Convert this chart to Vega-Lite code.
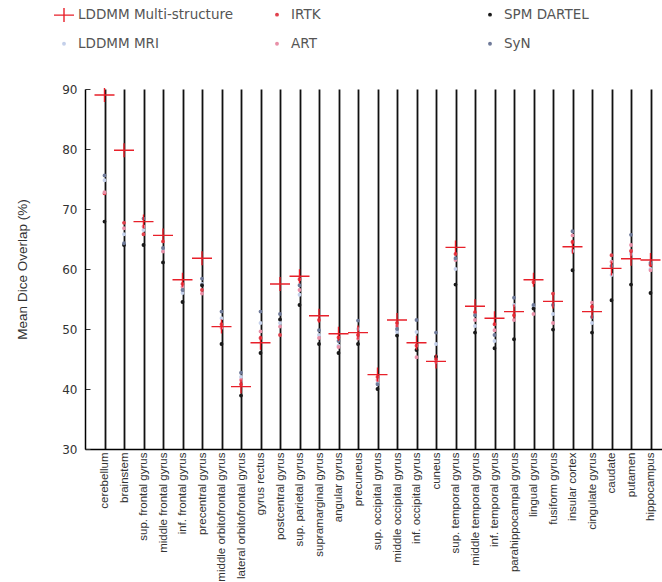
{
  "$schema": "https://vega.github.io/schema/vega-lite/v6.json",
  "width": 585,
  "height": 360,
  "autosize": {"type": "none"},
  "padding": {"left": 85, "top": 89, "right": -8, "bottom": 133},
  "background": "white",
  "config": {"view": {"stroke": null}},
  "data": {"values": [
    {"s":"cerebellum","m":"LDDMM MRI","v":74.8},{"s":"cerebellum","m":"IRTK","v":72.6},{"s":"cerebellum","m":"ART","v":72.8},{"s":"cerebellum","m":"SPM DARTEL","v":67.9},{"s":"cerebellum","m":"SyN","v":75.6},
    {"s":"brainstem","m":"LDDMM MRI","v":65.8},{"s":"brainstem","m":"IRTK","v":67.7},{"s":"brainstem","m":"ART","v":66.8},{"s":"brainstem","m":"SPM DARTEL","v":64.0},{"s":"brainstem","m":"SyN","v":64.3},
    {"s":"sup. frontal gyrus","m":"LDDMM MRI","v":66.5},{"s":"sup. frontal gyrus","m":"IRTK","v":65.8},{"s":"sup. frontal gyrus","m":"ART","v":67.1},{"s":"sup. frontal gyrus","m":"SPM DARTEL","v":64.0},{"s":"sup. frontal gyrus","m":"SyN","v":68.4},
    {"s":"middle frontal gyrus","m":"LDDMM MRI","v":63.0},{"s":"middle frontal gyrus","m":"IRTK","v":64.6},{"s":"middle frontal gyrus","m":"ART","v":62.9},{"s":"middle frontal gyrus","m":"SPM DARTEL","v":61.1},{"s":"middle frontal gyrus","m":"SyN","v":63.5},
    {"s":"inf. frontal gyrus","m":"LDDMM MRI","v":56.0},{"s":"inf. frontal gyrus","m":"IRTK","v":57.5},{"s":"inf. frontal gyrus","m":"ART","v":57.0},{"s":"inf. frontal gyrus","m":"SPM DARTEL","v":54.5},{"s":"inf. frontal gyrus","m":"SyN","v":56.5},
    {"s":"precentral gyrus","m":"LDDMM MRI","v":57.5},{"s":"precentral gyrus","m":"IRTK","v":56.5},{"s":"precentral gyrus","m":"ART","v":55.9},{"s":"precentral gyrus","m":"SPM DARTEL","v":57.3},{"s":"precentral gyrus","m":"SyN","v":58.4},
    {"s":"middle orbitofrontal gyrus","m":"LDDMM MRI","v":51.8},{"s":"middle orbitofrontal gyrus","m":"IRTK","v":50.8},{"s":"middle orbitofrontal gyrus","m":"ART","v":50.2},{"s":"middle orbitofrontal gyrus","m":"SPM DARTEL","v":47.5},{"s":"middle orbitofrontal gyrus","m":"SyN","v":52.9},
    {"s":"lateral orbitofrontal gyrus","m":"LDDMM MRI","v":42.0},{"s":"lateral orbitofrontal gyrus","m":"IRTK","v":40.8},{"s":"lateral orbitofrontal gyrus","m":"ART","v":41.5},{"s":"lateral orbitofrontal gyrus","m":"SPM DARTEL","v":38.9},{"s":"lateral orbitofrontal gyrus","m":"SyN","v":42.7},
    {"s":"gyrus rectus","m":"LDDMM MRI","v":51.0},{"s":"gyrus rectus","m":"IRTK","v":48.5},{"s":"gyrus rectus","m":"ART","v":49.6},{"s":"gyrus rectus","m":"SPM DARTEL","v":46.0},{"s":"gyrus rectus","m":"SyN","v":52.9},
    {"s":"postcentral gyrus","m":"LDDMM MRI","v":51.0},{"s":"postcentral gyrus","m":"IRTK","v":49.0},{"s":"postcentral gyrus","m":"ART","v":50.4},{"s":"postcentral gyrus","m":"SPM DARTEL","v":51.6},{"s":"postcentral gyrus","m":"SyN","v":52.5},
    {"s":"sup. parietal gyrus","m":"LDDMM MRI","v":55.7},{"s":"sup. parietal gyrus","m":"IRTK","v":58.3},{"s":"sup. parietal gyrus","m":"ART","v":56.5},{"s":"sup. parietal gyrus","m":"SPM DARTEL","v":54.0},{"s":"sup. parietal gyrus","m":"SyN","v":57.3},
    {"s":"supramarginal gyrus","m":"LDDMM MRI","v":49.0},{"s":"supramarginal gyrus","m":"IRTK","v":51.5},{"s":"supramarginal gyrus","m":"ART","v":48.5},{"s":"supramarginal gyrus","m":"SPM DARTEL","v":47.5},{"s":"supramarginal gyrus","m":"SyN","v":49.8},
    {"s":"angular gyrus","m":"LDDMM MRI","v":47.2},{"s":"angular gyrus","m":"IRTK","v":48.6},{"s":"angular gyrus","m":"ART","v":47.0},{"s":"angular gyrus","m":"SPM DARTEL","v":46.0},{"s":"angular gyrus","m":"SyN","v":48.0},
    {"s":"precuneus","m":"LDDMM MRI","v":50.0},{"s":"precuneus","m":"IRTK","v":49.0},{"s":"precuneus","m":"ART","v":48.4},{"s":"precuneus","m":"SPM DARTEL","v":47.5},{"s":"precuneus","m":"SyN","v":51.4},
    {"s":"sup. occipital gyrus","m":"LDDMM MRI","v":41.0},{"s":"sup. occipital gyrus","m":"IRTK","v":42.0},{"s":"sup. occipital gyrus","m":"ART","v":41.5},{"s":"sup. occipital gyrus","m":"SPM DARTEL","v":40.0},{"s":"sup. occipital gyrus","m":"SyN","v":40.8},
    {"s":"middle occipital gyrus","m":"LDDMM MRI","v":49.5},{"s":"middle occipital gyrus","m":"IRTK","v":51.0},{"s":"middle occipital gyrus","m":"ART","v":50.5},{"s":"middle occipital gyrus","m":"SPM DARTEL","v":48.9},{"s":"middle occipital gyrus","m":"SyN","v":50.0},
    {"s":"inf. occipital gyrus","m":"LDDMM MRI","v":49.5},{"s":"inf. occipital gyrus","m":"IRTK","v":47.2},{"s":"inf. occipital gyrus","m":"ART","v":45.3},{"s":"inf. occipital gyrus","m":"SPM DARTEL","v":46.5},{"s":"inf. occipital gyrus","m":"SyN","v":51.5},
    {"s":"cuneus","m":"LDDMM MRI","v":47.5},{"s":"cuneus","m":"IRTK","v":45.0},{"s":"cuneus","m":"ART","v":44.5},{"s":"cuneus","m":"SPM DARTEL","v":45.4},{"s":"cuneus","m":"SyN","v":49.4},
    {"s":"sup. temporal gyrus","m":"LDDMM MRI","v":60.0},{"s":"sup. temporal gyrus","m":"IRTK","v":62.5},{"s":"sup. temporal gyrus","m":"ART","v":61.5},{"s":"sup. temporal gyrus","m":"SPM DARTEL","v":57.4},{"s":"sup. temporal gyrus","m":"SyN","v":61.8},
    {"s":"middle temporal gyrus","m":"LDDMM MRI","v":50.5},{"s":"middle temporal gyrus","m":"IRTK","v":52.8},{"s":"middle temporal gyrus","m":"ART","v":51.5},{"s":"middle temporal gyrus","m":"SPM DARTEL","v":49.4},{"s":"middle temporal gyrus","m":"SyN","v":52.3},
    {"s":"inf. temporal gyrus","m":"LDDMM MRI","v":48.0},{"s":"inf. temporal gyrus","m":"IRTK","v":50.8},{"s":"inf. temporal gyrus","m":"ART","v":49.8},{"s":"inf. temporal gyrus","m":"SPM DARTEL","v":46.8},{"s":"inf. temporal gyrus","m":"SyN","v":49.0},
    {"s":"parahippocampal gyrus","m":"LDDMM MRI","v":54.0},{"s":"parahippocampal gyrus","m":"IRTK","v":52.3},{"s":"parahippocampal gyrus","m":"ART","v":51.5},{"s":"parahippocampal gyrus","m":"SPM DARTEL","v":48.3},{"s":"parahippocampal gyrus","m":"SyN","v":55.2},
    {"s":"lingual gyrus","m":"LDDMM MRI","v":53.8},{"s":"lingual gyrus","m":"IRTK","v":57.8},{"s":"lingual gyrus","m":"ART","v":52.5},{"s":"lingual gyrus","m":"SPM DARTEL","v":53.4},{"s":"lingual gyrus","m":"SyN","v":54.0},
    {"s":"fusiform gyrus","m":"LDDMM MRI","v":52.5},{"s":"fusiform gyrus","m":"IRTK","v":55.9},{"s":"fusiform gyrus","m":"ART","v":51.0},{"s":"fusiform gyrus","m":"SPM DARTEL","v":49.9},{"s":"fusiform gyrus","m":"SyN","v":54.0},
    {"s":"insular cortex","m":"LDDMM MRI","v":63.0},{"s":"insular cortex","m":"IRTK","v":64.5},{"s":"insular cortex","m":"ART","v":65.6},{"s":"insular cortex","m":"SPM DARTEL","v":59.8},{"s":"insular cortex","m":"SyN","v":66.3},
    {"s":"cingulate gyrus","m":"LDDMM MRI","v":51.0},{"s":"cingulate gyrus","m":"IRTK","v":53.7},{"s":"cingulate gyrus","m":"ART","v":54.4},{"s":"cingulate gyrus","m":"SPM DARTEL","v":49.4},{"s":"cingulate gyrus","m":"SyN","v":52.0},
    {"s":"caudate","m":"LDDMM MRI","v":59.0},{"s":"caudate","m":"IRTK","v":62.3},{"s":"caudate","m":"ART","v":61.2},{"s":"caudate","m":"SPM DARTEL","v":54.8},{"s":"caudate","m":"SyN","v":60.5},
    {"s":"putamen","m":"LDDMM MRI","v":62.5},{"s":"putamen","m":"IRTK","v":63.0},{"s":"putamen","m":"ART","v":64.0},{"s":"putamen","m":"SPM DARTEL","v":57.4},{"s":"putamen","m":"SyN","v":65.7},
    {"s":"hippocampus","m":"LDDMM MRI","v":60.0},{"s":"hippocampus","m":"IRTK","v":60.7},{"s":"hippocampus","m":"ART","v":59.8},{"s":"hippocampus","m":"SPM DARTEL","v":56.0},{"s":"hippocampus","m":"SyN","v":61.0},
    {"s":"cerebellum","m":"LDDMM Multi-structure","v":89.0},{"s":"brainstem","m":"LDDMM Multi-structure","v":79.8},{"s":"sup. frontal gyrus","m":"LDDMM Multi-structure","v":67.9},{"s":"middle frontal gyrus","m":"LDDMM Multi-structure","v":65.6},{"s":"inf. frontal gyrus","m":"LDDMM Multi-structure","v":58.2},{"s":"precentral gyrus","m":"LDDMM Multi-structure","v":61.8},{"s":"middle orbitofrontal gyrus","m":"LDDMM Multi-structure","v":50.4},{"s":"lateral orbitofrontal gyrus","m":"LDDMM Multi-structure","v":40.4},{"s":"gyrus rectus","m":"LDDMM Multi-structure","v":47.7},{"s":"postcentral gyrus","m":"LDDMM Multi-structure","v":57.5},{"s":"sup. parietal gyrus","m":"LDDMM Multi-structure","v":58.8},{"s":"supramarginal gyrus","m":"LDDMM Multi-structure","v":52.2},{"s":"angular gyrus","m":"LDDMM Multi-structure","v":49.2},{"s":"precuneus","m":"LDDMM Multi-structure","v":49.4},{"s":"sup. occipital gyrus","m":"LDDMM Multi-structure","v":42.4},{"s":"middle occipital gyrus","m":"LDDMM Multi-structure","v":51.5},{"s":"inf. occipital gyrus","m":"LDDMM Multi-structure","v":47.7},{"s":"cuneus","m":"LDDMM Multi-structure","v":44.6},{"s":"sup. temporal gyrus","m":"LDDMM Multi-structure","v":63.6},{"s":"middle temporal gyrus","m":"LDDMM Multi-structure","v":53.8},{"s":"inf. temporal gyrus","m":"LDDMM Multi-structure","v":51.8},{"s":"parahippocampal gyrus","m":"LDDMM Multi-structure","v":52.9},{"s":"lingual gyrus","m":"LDDMM Multi-structure","v":58.2},{"s":"fusiform gyrus","m":"LDDMM Multi-structure","v":54.6},{"s":"insular cortex","m":"LDDMM Multi-structure","v":63.7},{"s":"cingulate gyrus","m":"LDDMM Multi-structure","v":52.9},{"s":"caudate","m":"LDDMM Multi-structure","v":60.1},{"s":"putamen","m":"LDDMM Multi-structure","v":61.7},{"s":"hippocampus","m":"LDDMM Multi-structure","v":61.5}
  ]},
  "mark": {"type": "point", "filled": true, "strokeWidth": 1.4, "opacity": 1, "fillOpacity": 1, "strokeOpacity": 1},
  "encoding": {
    "x": {
      "field": "s", "type": "nominal", "sort": null,
      "scale": {"type": "point", "padding": 1.03},
      "axis": {
        "title": null, "labelAngle": 270, "labelFont": "Liberation Sans", "labelFontSize": 11.5,
        "labelColor": "#333", "labelPadding": 3, "labelLimit": 300, "ticks": false,
        "domainColor": "#000", "domainWidth": 1.5,
        "grid": true, "gridColor": "#111", "gridWidth": 1.8, "gridOpacity": 1
      }
    },
    "y": {
      "field": "v", "type": "quantitative",
      "scale": {"domain": [30, 90], "nice": false, "zero": false},
      "axis": {
        "title": "Mean Dice Overlap (%)", "titleFont": "Liberation Sans", "titleFontSize": 13.5,
        "titleFontWeight": "normal", "titleColor": "#333", "titlePadding": 32,
        "values": [30, 40, 50, 60, 70, 80, 90], "grid": false,
        "labelFont": "DejaVu Sans", "labelFontSize": 12, "labelColor": "#333",
        "tickSize": -5, "tickColor": "#333", "labelPadding": 13,
        "domainColor": "#000", "domainWidth": 1.5
      }
    },
    "color": {
      "field": "m", "type": "nominal",
      "scale": {
        "domain": ["LDDMM Multi-structure", "IRTK", "SPM DARTEL", "LDDMM MRI", "ART", "SyN"],
        "range": ["#e8202a", "#e0404c", "#1a1a1a", "#c4d0ea", "#e890a8", "#6f7a99"]
      },
      "legend": {
        "title": null, "orient": "none", "legendX": -32, "legendY": -85,
        "direction": "horizontal", "columns": 3, "gridAlign": "all",
        "columnPadding": 32, "rowPadding": 11, "padding": 0,
        "labelFont": "DejaVu Sans", "labelFontSize": 13.5, "labelColor": "#555",
        "labelOffset": 3, "labelLimit": 300, "symbolStrokeWidth": 1.4
      }
    },
    "stroke": {
      "field": "m", "type": "nominal",
      "scale": {
        "domain": ["LDDMM Multi-structure", "IRTK", "SPM DARTEL", "LDDMM MRI", "ART", "SyN"],
        "range": ["#e8202a", "#e0404c", "#1a1a1a", "#c4d0ea", "#e890a8", "#6f7a99"]
      }
    },
    "shape": {
      "field": "m", "type": "nominal",
      "scale": {
        "domain": ["LDDMM Multi-structure", "IRTK", "SPM DARTEL", "LDDMM MRI", "ART", "SyN"],
        "range": ["M-1,0L1,0M0,-0.7L0,0.7", "circle", "circle", "circle", "circle", "circle"]
      }
    },
    "size": {
      "field": "m", "type": "nominal",
      "scale": {
        "type": "ordinal",
        "domain": ["LDDMM Multi-structure", "IRTK", "SPM DARTEL", "LDDMM MRI", "ART", "SyN"],
        "range": [400, 6, 6, 6, 6, 6]
      }
    }
  }
}
